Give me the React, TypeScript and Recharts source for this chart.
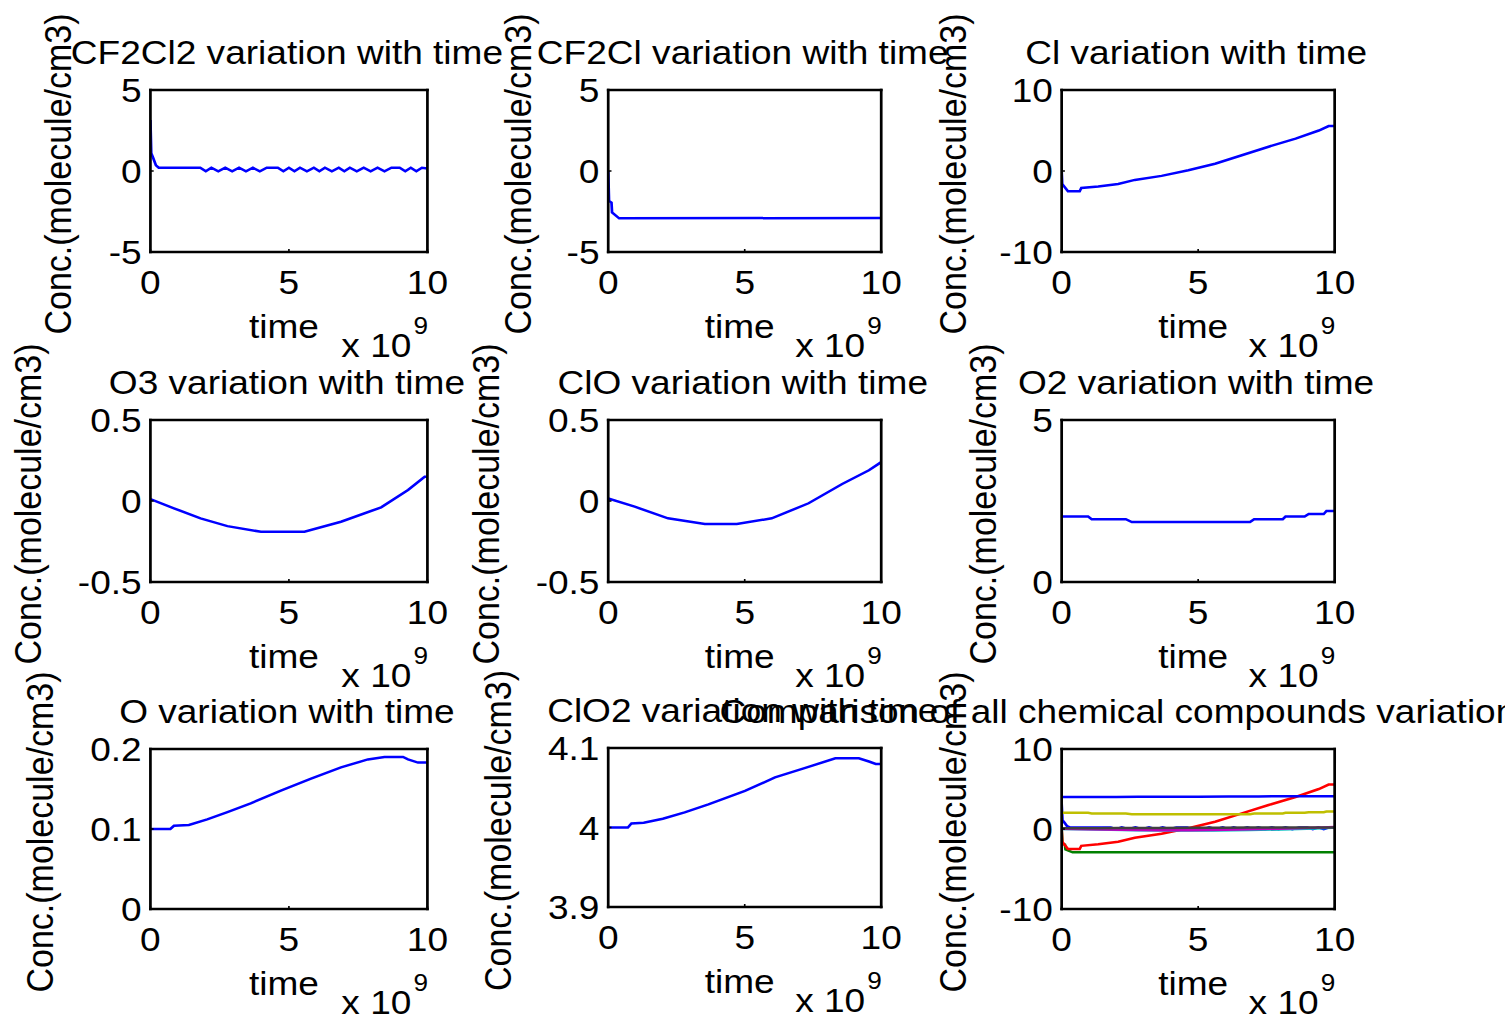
import React from 'react';
import { LineChart, Line, XAxis, YAxis, Customized } from 'recharts';

// ---------------- data (time in s, concentration in molecule/cm3) ----------------
type Pair = [number, number];

const timeTicks = [0, 5e9, 10e9];

const cf2cl2: Pair[] = [
  [0, 3.15], [0.03e9, 1.1], [0.1e9, 0.8], [0.2e9, 0.35], [0.3e9, 0.2], [1.8e9, 0.2],
  [2.0e9, -0.02], [2.2e9, 0.2], [2.45e9, -0.02], [2.7e9, 0.2], [2.95e9, -0.02], [3.2e9, 0.2],
  [3.45e9, -0.02], [3.7e9, 0.2], [3.95e9, -0.02], [4.2e9, 0.2], [4.6e9, 0.2], [4.8e9, -0.02],
  [5.0e9, 0.2], [5.2e9, -0.02], [5.4e9, 0.2], [5.65e9, -0.02], [5.9e9, 0.2], [6.1e9, -0.02],
  [6.3e9, 0.2], [6.55e9, -0.02], [6.8e9, 0.2], [7.0e9, -0.02], [7.2e9, 0.2], [7.45e9, -0.02],
  [7.7e9, 0.2], [7.95e9, -0.02], [8.2e9, 0.2], [8.45e9, -0.02], [8.7e9, 0.2], [9.0e9, 0.2],
  [9.2e9, -0.02], [9.4e9, 0.2], [9.6e9, -0.02], [9.8e9, 0.2], [10e9, 0.15],
];

const cf2cl: Pair[] = [
  [0, 0], [0.03e9, -1.85], [0.12e9, -1.95], [0.14e9, -2.55], [0.4e9, -2.92], [10e9, -2.9],
];

const cl: Pair[] = [
  [0, 0], [0.02e9, -1.6], [0.23e9, -2.5], [0.66e9, -2.5], [0.72e9, -2.1], [1.34e9, -1.9],
  [2.07e9, -1.6], [2.68e9, -1.1], [3.66e9, -0.6], [4.64e9, 0.1], [5.62e9, 0.9], [6.6e9, 1.95],
  [7.58e9, 3.0], [8.57e9, 4.0], [9.42e9, 5.0], [9.78e9, 5.55], [10e9, 5.55],
];

const o3: Pair[] = [
  [0, 0.012], [0.85e9, -0.045], [1.81e9, -0.107], [2.78e9, -0.155], [3.99e9, -0.19],
  [5.56e9, -0.19], [6.88e9, -0.128], [8.33e9, -0.039], [9.3e9, 0.068], [9.9e9, 0.15], [10e9, 0.15],
];

const clo: Pair[] = [
  [0, 0.016], [0.97e9, -0.035], [2.19e9, -0.107], [3.54e9, -0.142], [4.71e9, -0.142],
  [5.99e9, -0.107], [7.34e9, -0.014], [8.57e9, 0.105], [9.55e9, 0.19], [10e9, 0.24],
];

const o2: Pair[] = [
  [0, 2.02], [0.97e9, 2.02], [1.1e9, 1.94], [2.35e9, 1.94], [2.57e9, 1.85], [6.9e9, 1.85],
  [7.05e9, 1.94], [8.1e9, 1.94], [8.2e9, 2.02], [8.9e9, 2.02], [9.05e9, 2.1], [9.6e9, 2.1],
  [9.7e9, 2.19], [10e9, 2.19],
];

const o: Pair[] = [
  [0, 0.1], [0.72e9, 0.1], [0.85e9, 0.104], [1.39e9, 0.105], [2.05e9, 0.112], [2.78e9, 0.121],
  [3.62e9, 0.132], [4.71e9, 0.148], [5.8e9, 0.163], [6.88e9, 0.177], [7.85e9, 0.187],
  [8.45e9, 0.19], [9.12e9, 0.19], [9.3e9, 0.187], [9.66e9, 0.183], [10e9, 0.183],
];

const clo2: Pair[] = [
  [0, 4.0], [0.72e9, 4.0], [0.85e9, 4.005], [1.3e9, 4.006], [2.0e9, 4.011], [2.8e9, 4.019],
  [3.67e9, 4.029], [5.01e9, 4.046], [6.11e9, 4.063], [7.22e9, 4.075], [8.32e9, 4.087],
  [9.18e9, 4.087], [9.55e9, 4.083], [9.8e9, 4.08], [10e9, 4.08],
];

const ticks5 = [-5, 0, 5];
const ticks10 = [-10, 0, 10];
const ticksHalf = [-0.5, 0, 0.5];
const ticksO2 = [0, 5];
const ticksO = [0, 0.1, 0.2];
const ticksClO2 = [3.9, 4, 4.1];

const matlabColors = ['#0000ff', '#008000', '#ff0000', '#00bfbf', '#bf00bf', '#bfbf00', '#404040'];

// ---------------- layout ----------------
const K = 1.09; // horizontal stretch of the figure
const ML = 350;
const MR = 170;
const MT = 90;
const MB = 130;
const FONT = '"Liberation Sans", Arial, Helvetica, sans-serif';
const FS = 34;

const toPoints = (a: Pair[]) => a.map(([t, c]) => ({ t, c }));

interface PanelDef {
  title: string;
  box: [number, number, number, number]; // left, top, right, bottom (page px)
  domain: [number, number];
  ticks: number[];
  ylabelOff: number; // centre of y-label relative to plot left (page px)
  series: { data: Pair[]; color: string }[];
}

const B = matlabColors[0];

const panels: PanelDef[] = [
  { title: 'CF2Cl2 variation with time', box: [150, 90, 427, 252], domain: [-5, 5], ticks: ticks5, ylabelOff: -90, series: [{ data: cf2cl2, color: B }] },
  { title: 'CF2Cl variation with time', box: [608, 90, 881, 252], domain: [-5, 5], ticks: ticks5, ylabelOff: -88, series: [{ data: cf2cl, color: B }] },
  { title: 'Cl variation with time', box: [1062, 90, 1335, 252], domain: [-10, 10], ticks: ticks10, ylabelOff: -107, series: [{ data: cl, color: B }] },
  { title: 'O3 variation with time', box: [150, 420, 427, 582], domain: [-0.5, 0.5], ticks: ticksHalf, ylabelOff: -120, series: [{ data: o3, color: B }] },
  { title: 'ClO variation with time', box: [608, 420, 881, 582], domain: [-0.5, 0.5], ticks: ticksHalf, ylabelOff: -120, series: [{ data: clo, color: B }] },
  { title: 'O2 variation with time', box: [1062, 420, 1335, 582], domain: [0, 5], ticks: ticksO2, ylabelOff: -77, series: [{ data: o2, color: B }] },
  { title: 'O variation with time', box: [150, 749, 427, 909], domain: [0, 0.2], ticks: ticksO, ylabelOff: -108, series: [{ data: o, color: B }] },
  { title: 'ClO2 variation with time', box: [608, 748, 881, 907], domain: [3.9, 4.1], ticks: ticksClO2, ylabelOff: -108, series: [{ data: clo2, color: B }] },
  {
    title: 'Comparison of all chemical compounds variation with time',
    box: [1062, 749, 1335, 909],
    domain: [-10, 10],
    ticks: ticks10,
    ylabelOff: -107,
    series: [cf2cl2, cf2cl, cl, o3, clo, o2, o, clo2].map((d, i) => ({ data: d, color: matlabColors[i % matlabColors.length] })),
  },
];

const PanelText = ({ title, pw, ph, ylabelOff }: { title: string; pw: number; ph: number; ylabelOff: number }) => {
  const cx = ML + pw / 2;
  const bottom = MT + ph;
  const right = ML + pw;
  const yx = ML + ylabelOff / K + 10;
  const yy = MT + ph / 2 + 3;
  return (
    <g fill="#000" style={{ fontFamily: FONT }}>
      <text x={cx - 2 / K} y={MT - 26} textAnchor="middle" fontSize={FS}>{title}</text>
      <text x={cx - 5 / K} y={bottom + 86} textAnchor="middle" fontSize={FS}>time</text>
      <text x={right - 16 / K} y={bottom + 105} textAnchor="end" fontSize={FS}>x 10</text>
      <text x={right - 14 / K} y={bottom + 82} textAnchor="start" fontSize={24}>9</text>
      <text transform={`translate(${yx},${yy}) rotate(-90)`} textAnchor="middle" fontSize={FS}>Conc.(molecule/cm3)</text>
    </g>
  );
};

const axisLine = { stroke: '#000', strokeWidth: 2.5, strokeLinecap: 'square' as const };
const tickLine = { stroke: '#000', strokeWidth: 1.5 };
const tickStyle = { fontSize: FS, fill: '#000', fontFamily: FONT };

const Panel = ({ p }: { p: PanelDef }) => {
  const [l, t, r, b] = p.box;
  const pw = (r - l) / K;
  const ph = b - t;
  const width = ML + pw + MR;
  const height = MT + ph + MB;
  return (
    <div style={{ position: 'absolute', left: l / K - ML, top: t - MT, width, height }}>
      <LineChart width={width} height={height} margin={{ top: MT - 1, right: MR - 1, bottom: MB - 40, left: ML - 60 }}>
        <XAxis
          xAxisId="bottom"
          dataKey="t"
          type="number"
          domain={[0, 10e9]}
          ticks={timeTicks}
          interval={0}
          allowDataOverflow
          height={40}
          tickFormatter={(v: number) => String(v / 1e9)}
          tick={tickStyle}
          tickSize={-3}
          tickMargin={21}
          tickLine={tickLine}
          axisLine={axisLine}
        />
        <XAxis
          xAxisId="top"
          orientation="top"
          dataKey="t"
          type="number"
          domain={[0, 10e9]}
          ticks={timeTicks}
          interval={0}
          allowDataOverflow
          height={1}
          tick={false}
          tickSize={-3}
          tickLine={tickLine}
          axisLine={axisLine}
        />
        <YAxis
          yAxisId="left"
          type="number"
          domain={p.domain}
          ticks={p.ticks}
          interval={0}
          allowDataOverflow
          width={60}
          tick={tickStyle}
          tickSize={-3}
          tickMargin={11}
          tickLine={tickLine}
          axisLine={axisLine}
        />
        <YAxis
          yAxisId="right"
          orientation="right"
          type="number"
          domain={p.domain}
          ticks={p.ticks}
          interval={0}
          allowDataOverflow
          width={1}
          tick={false}
          tickSize={-3}
          tickLine={tickLine}
          axisLine={axisLine}
        />
        {p.series.map((s, i) => (
          <Line
            key={i}
            xAxisId="bottom"
            yAxisId="left"
            data={toPoints(s.data)}
            dataKey="c"
            type="linear"
            stroke={s.color}
            strokeWidth={2.5}
            dot={false}
            activeDot={false}
            isAnimationActive={false}
          />
        ))}
        <Customized component={<PanelText title={p.title} pw={pw} ph={ph} ylabelOff={p.ylabelOff} />} />
      </LineChart>
    </div>
  );
};

export default function App() {
  return (
    <div style={{ position: 'absolute', left: 0, top: 0, width: 1505, height: 1016, overflow: 'hidden', background: '#fff' }}>
      <div
        style={{
          position: 'relative',
          width: 1505 / K,
          height: 1016,
          transform: `scaleX(${K})`,
          transformOrigin: '0 0',
          fontFamily: FONT,
        }}
      >
        {panels.map((p, i) => (
          <Panel key={i} p={p} />
        ))}
      </div>
    </div>
  );
}
